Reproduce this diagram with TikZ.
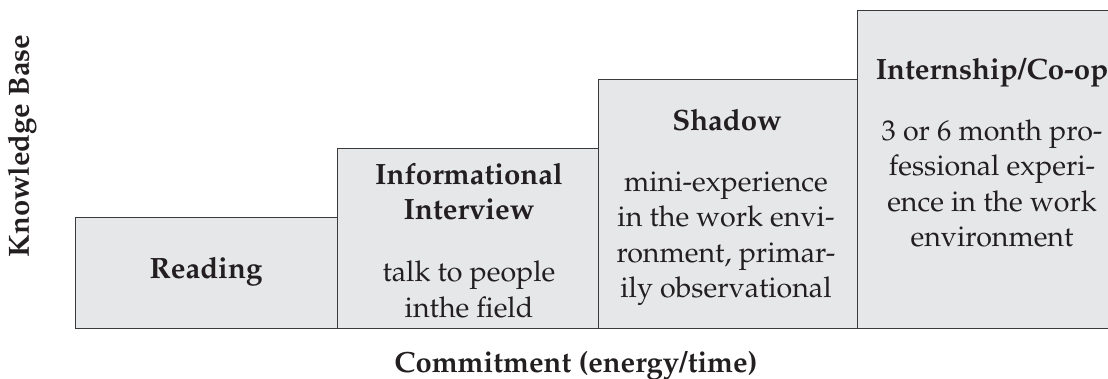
\documentclass[tikz,border=0pt]{standalone}
\usepackage[T1]{fontenc}
\usepackage{mathpazo}
\definecolor{boxfill}{HTML}{E6E7E9}
\definecolor{boxline}{HTML}{3A3A3A}
\definecolor{ink}{HTML}{231F20}
\begin{document}
\begin{tikzpicture}[x=1pt,y=-1pt,
  stagebox/.style={draw=boxline, fill=boxfill, line width=1.1pt, anchor=north west, inner sep=0pt},
  heading/.style={font=\fontsize{29.4}{35.5}\selectfont\bfseries, text=ink, align=center, anchor=base, inner sep=0pt},
  body/.style={font=\fontsize{28.6}{35.5}\selectfont, text=ink, align=center, anchor=base, inner sep=0pt},
  axislabel/.style={font=\fontsize{29.2}{35}\selectfont\bfseries, text=ink, inner sep=0pt}]
\useasboundingbox (0,0) rectangle (1108,379);
\begin{scope}
\clip (0,0) rectangle (1108,379);
% the four stages, each one a step higher than the last
\node[stagebox, minimum width=262, minimum height=111] (reading) at (75,217) {};
\node[stagebox, minimum width=261, minimum height=180] (interview) at (337,148) {};
\node[stagebox, minimum width=259, minimum height=249] (shadow) at (598,79) {};
\node[stagebox, minimum width=280, minimum height=318] (intern) at (857,10) {};
\end{scope}
% stage texts (anchored at the baseline of their last line)
\node[heading] (readingT) at (206,279) {Reading};
\node[heading] (interviewT) at (469,220) {Informational\\Interview};
\node[body] (interviewB) at (469,317) {talk to people\\inthe field};
\node[heading] (shadowT) at (727,131) {Shadow};
\node[body] (shadowB) at (726,298) {mini-experience\\in the work envi-\\ronment, primar-\\ily observational};
\node[heading] (internT) at (992,80) {Internship/Co-op};
\node[body] (internB) at (992,247) {3 or 6 month pro-\\fessional experi-\\ence in the work\\environment};
% axes
\node[axislabel, rotate=90] (kb) at (22,146) {Knowledge Base};
\node[axislabel, anchor=base] (commit) at (576,372) {Commitment (energy/time)};
\end{tikzpicture}
\end{document}
